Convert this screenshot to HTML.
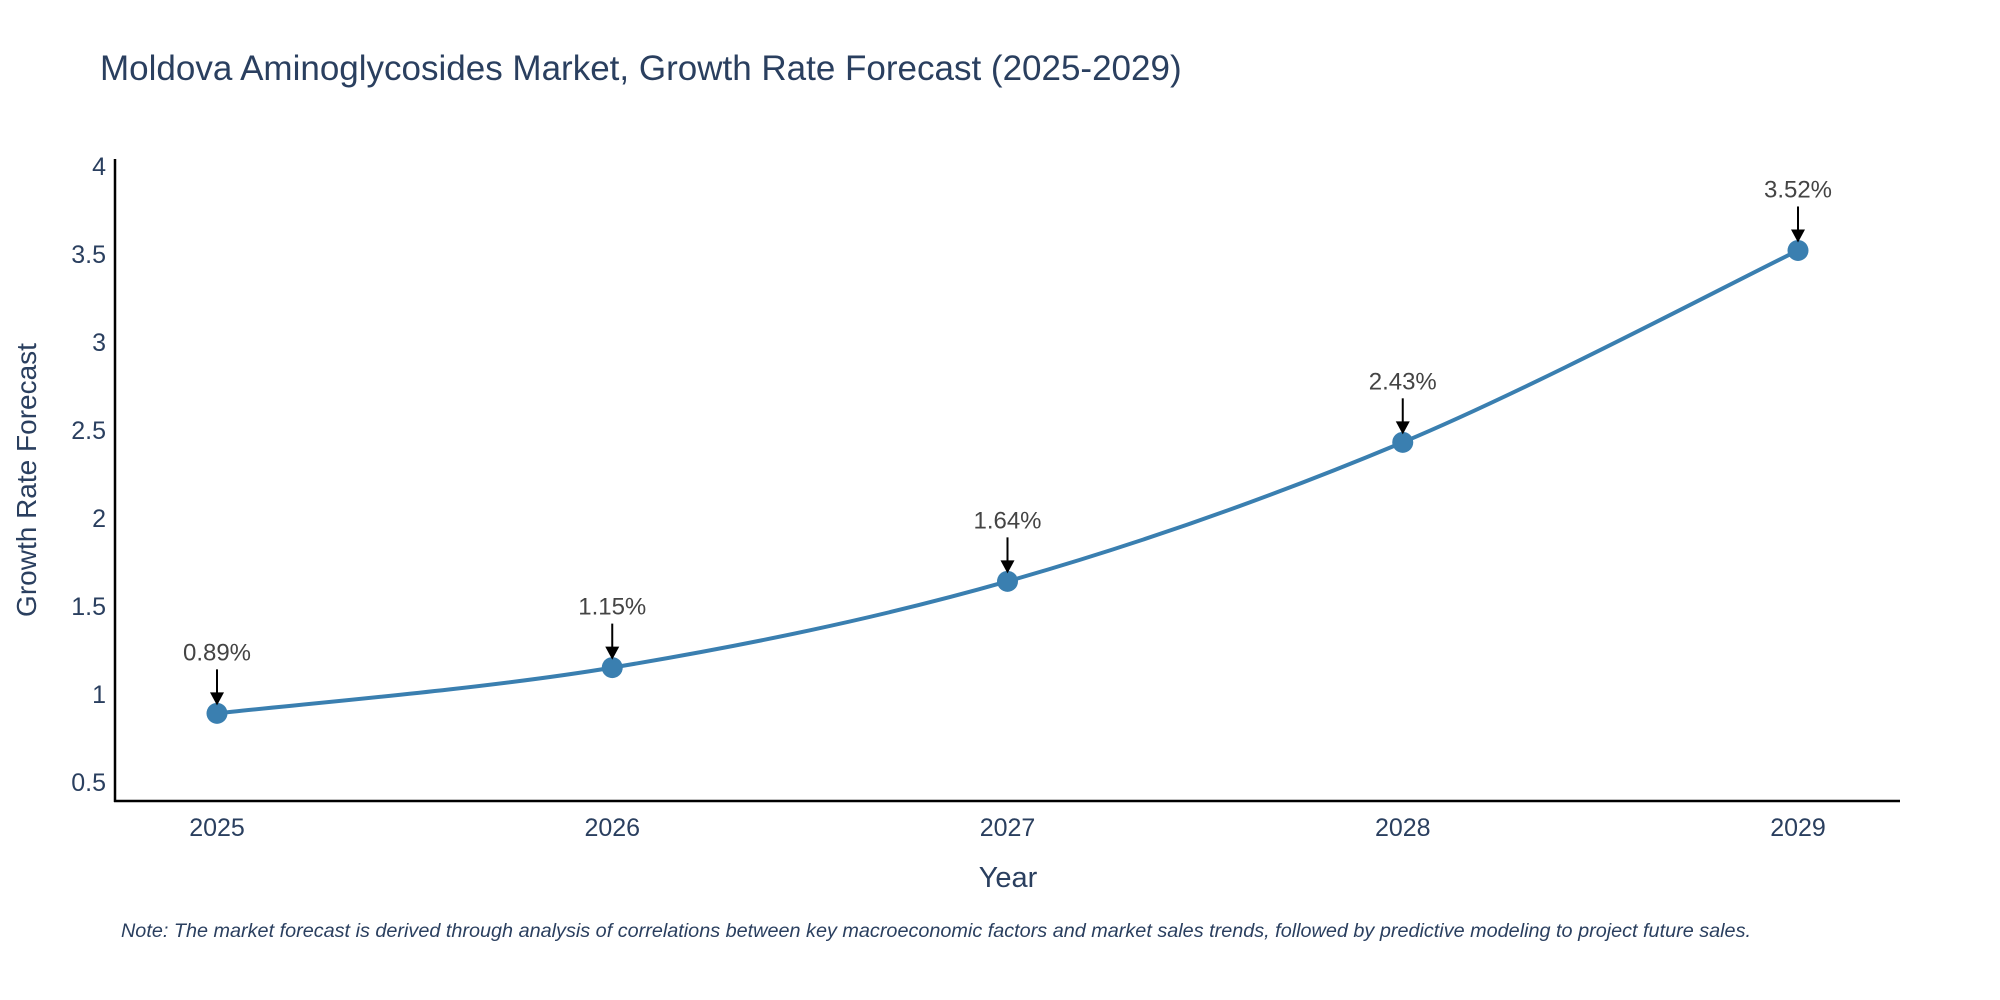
<!DOCTYPE html>
<html><head><meta charset="utf-8"><style>
html,body{margin:0;padding:0;background:#fff;width:2000px;height:1000px;overflow:hidden}
text{font-family:"Liberation Sans",sans-serif}
</style></head><body>
<svg id="chart" width="2000" height="1000" xmlns="http://www.w3.org/2000/svg">
<text x="100" y="80" font-size="35" fill="#2a3f5f">Moldova Aminoglycosides Market, Growth Rate Forecast (2025-2029)</text>
<g id="yticks"></g>
<g id="xticks"></g>
<line x1="115" y1="159" x2="115" y2="802" stroke="#000" stroke-width="2.5"/>
<line x1="114" y1="801" x2="1900" y2="801" stroke="#000" stroke-width="2.5"/>
<text transform="translate(36,480) rotate(-90)" text-anchor="middle" font-size="28" fill="#2a3f5f">Growth Rate Forecast</text>
<text x="1008" y="887" text-anchor="middle" font-size="29" fill="#2a3f5f">Year</text>
<g id="series"></g>
<text x="121" y="937" font-size="19" font-style="italic" fill="#2a3f5f" textLength="1630" lengthAdjust="spacingAndGlyphs">Note: The market forecast is derived through analysis of correlations between key macroeconomic factors and market sales trends, followed by predictive modeling to project future sales.</text>
</svg>
<script>
const years = [2025, 2026, 2027, 2028, 2029];
const values = [0.89, 1.15, 1.64, 2.43, 3.52];
const labels = ["0.89%", "1.15%", "1.64%", "2.43%", "3.52%"];
const yTicks = [0.5, 1, 1.5, 2, 2.5, 3, 3.5, 4];
const yTickLabels = ["0.5", "1", "1.5", "2", "2.5", "3", "3.5", "4"];

const NS = "http://www.w3.org/2000/svg";
function xs(yr){return 217 + (yr-2025)*(1798-217)/4;}
function ys(v){return 782 - (v-0.5)*176;}
function mk(tag, attrs, parent){const e=document.createElementNS(NS,tag);for(const k in attrs)e.setAttribute(k,attrs[k]);parent.appendChild(e);return e;}

const yg=document.getElementById('yticks');
yTicks.forEach((t,i)=>{
  const e=mk('text',{x:106,y:ys(t)+9,'text-anchor':'end','font-size':25,fill:'#2a3f5f'},yg);
  
  
  e.textContent=yTickLabels[i];
});
const xg=document.getElementById('xticks');
years.forEach(y=>{
  const e=mk('text',{x:xs(y),y:836,'text-anchor':'middle','font-size':25,fill:'#2a3f5f'},xg);
  
  
  e.textContent=String(y);
});

const sg=document.getElementById('series');
const pts=years.map((y,i)=>[xs(y),ys(values[i])]);
let d=`M${pts[0][0]},${pts[0][1]}`;
for(let i=0;i<pts.length-1;i++){
  const p0=pts[Math.max(0,i-1)],p1=pts[i],p2=pts[i+1],p3=pts[Math.min(pts.length-1,i+2)];
  const c1=[p1[0]+(p2[0]-p0[0])/6,p1[1]+(p2[1]-p0[1])/6];
  const c2=[p2[0]-(p3[0]-p1[0])/6,p2[1]-(p3[1]-p1[1])/6];
  d+=` C${c1[0]},${c1[1]} ${c2[0]},${c2[1]} ${p2[0]},${p2[1]}`;
}
const line=mk('path',{d:d,fill:'none',stroke:'#3a7fb0','stroke-width':4},sg);



pts.forEach((p,i)=>{
  const c=mk('circle',{cx:p[0],cy:p[1],r:10.5,fill:'#3a7fb0'},sg);
  
  
  const a=mk('line',{x1:p[0],y1:p[1]-44,x2:p[0],y2:p[1]-20,stroke:'#000','stroke-width':2},sg);
  
  
  const h=mk('polygon',{points:`${p[0]-7},${p[1]-21} ${p[0]+7},${p[1]-21} ${p[0]},${p[1]-8}`,fill:'#000'},sg);
  
  
  const t=mk('text',{x:p[0],y:p[1]-53,'text-anchor':'middle','font-size':24,fill:'#444'},sg);
  
  
  t.textContent=labels[i];
});
</script>
</body></html>
